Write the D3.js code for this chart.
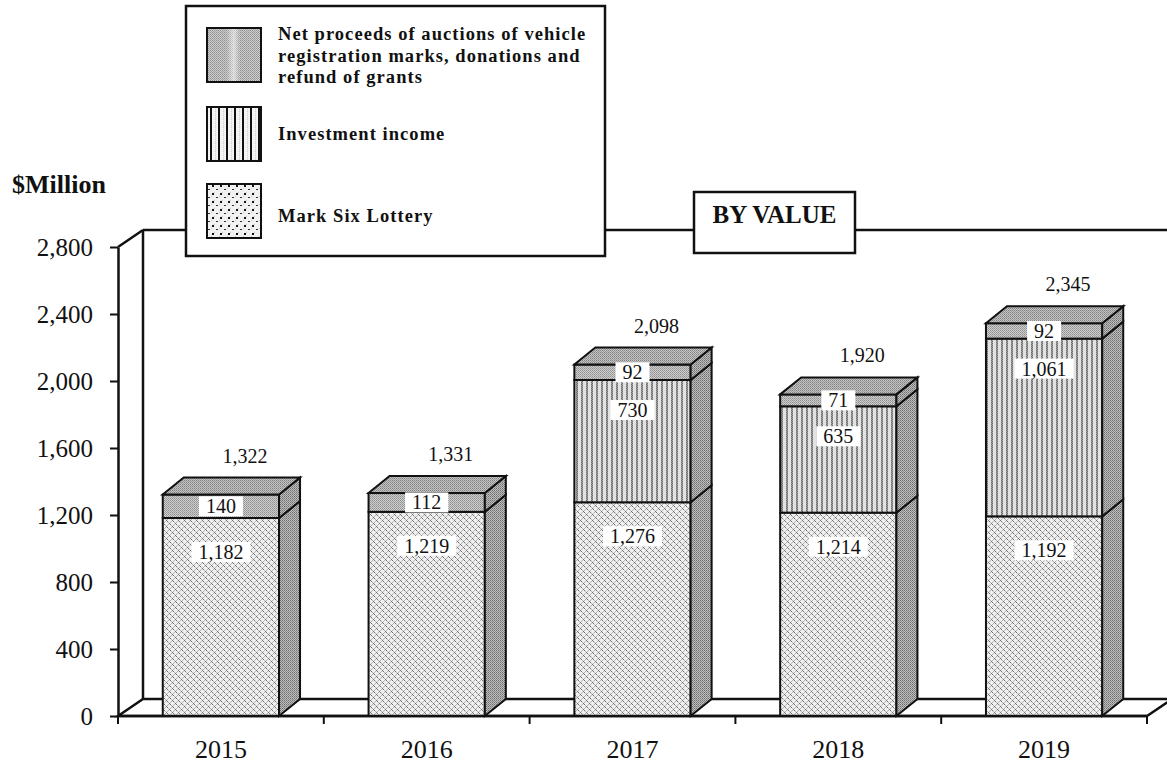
<!DOCTYPE html>
<html>
<head>
<meta charset="utf-8">
<script src="https://cdn.jsdelivr.net/npm/d3@7"></script>
<style>
  body { margin: 0; background: #fff; }
  svg { display: block; font-family: "Liberation Serif", "Times New Roman", serif; }
</style>
</head>
<body>
<div id="chart"></div>
<script>
// data
var years = ["2015", "2016", "2017", "2018", "2019"];
var markSix = [1182, 1219, 1276, 1214, 1192];
var investment = [0, 0, 730, 635, 1061];
var netProceeds = [140, 112, 92, 71, 92];
var totals = [1322, 1331, 2098, 1920, 2345];
var yTicks = [0, 400, 800, 1200, 1600, 2000, 2400, 2800];
var seriesKeys = ["markSix", "investment", "netProceeds"];
var legendLabels = {
  netProceeds: ["Net proceeds of auctions of vehicle", "registration marks, donations and", "refund of grants"],
  investment: ["Investment income"],
  markSix: ["Mark Six Lottery"]
};

var W = 1167, H = 767;
var plot = {left: 118, right: 1147, bottom: 716, top: 247};
var depth = {dx: 21, dy: -17};   // bar depth
var wall = {dx: 25, dy: -17};    // back wall offset

var svg = d3.select("#chart").append("svg")
    .attr("width", W).attr("height", H);

// patterns to mimic the print screens
var defs = svg.append("defs");
function pat(id, w, h) {
  return defs.append("pattern").attr("id", id).attr("patternUnits", "userSpaceOnUse")
    .attr("width", w).attr("height", h).attr("shape-rendering", "crispEdges");
}
var p = pat("pNet", 2, 2);
p.append("rect").attr("width", 2).attr("height", 2).attr("fill", "#cfcfcf");
p.append("rect").attr("width", 1).attr("height", 1).attr("fill", "#8e8e8e");
p.append("rect").attr("x", 1).attr("y", 1).attr("width", 1).attr("height", 1).attr("fill", "#a0a0a0");

p = pat("pTop", 2, 2);
p.append("rect").attr("width", 2).attr("height", 2).attr("fill", "#c4c4c4");
p.append("rect").attr("width", 1).attr("height", 1).attr("fill", "#808080");
p.append("rect").attr("x", 1).attr("y", 1).attr("width", 1).attr("height", 1).attr("fill", "#999");

p = pat("pSide", 2, 2);
p.append("rect").attr("width", 2).attr("height", 2).attr("fill", "#bdbdbd");
p.append("rect").attr("width", 1).attr("height", 1).attr("fill", "#6e6e6e");
p.append("rect").attr("x", 1).attr("y", 1).attr("width", 1).attr("height", 1).attr("fill", "#8a8a8a");

p = pat("pInv", 5, 2);
p.append("rect").attr("width", 5).attr("height", 2).attr("fill", "#e2e2e2");
p.append("rect").attr("x", 1).attr("width", 1).attr("height", 1).attr("fill", "#6e6e6e");
p.append("rect").attr("x", 2).attr("y", 1).attr("width", 1).attr("height", 1).attr("fill", "#6e6e6e");
p.append("rect").attr("x", 1).attr("y", 1).attr("width", 1).attr("height", 1).attr("fill", "#a0a0a0");
p.append("rect").attr("x", 2).attr("width", 1).attr("height", 1).attr("fill", "#a0a0a0");

p = pat("pMark", 6, 6);
p.append("rect").attr("width", 6).attr("height", 6).attr("fill", "#efefef");
[[0,0],[2,0],[1,1],[0,2],[2,2],[3,3],[5,3],[4,4],[3,5],[5,5]].forEach(function(c, i) {
  p.append("rect").attr("x", c[0]).attr("y", c[1]).attr("width", 1).attr("height", 1)
    .attr("fill", i % 5 === 2 || i % 5 === 4 ? "#707070" : "#b4b4b4");
});

// legend versions
p = pat("lInv", 8, 2);
p.append("rect").attr("width", 8).attr("height", 2).attr("fill", "#f3f3f3");
p.append("rect").attr("x", 5).attr("y", 1).attr("width", 1).attr("height", 1).attr("fill", "#cfcfcf");
p.append("rect").attr("x", 0).attr("width", 2).attr("height", 2).attr("fill", "#111");

p = pat("lMark", 8, 8);
p.append("rect").attr("width", 8).attr("height", 8).attr("fill", "#f1f1f1");
p.append("rect").attr("x", 4).attr("y", 2).attr("width", 1).attr("height", 1).attr("fill", "#c8c8c8");
p.append("rect").attr("x", 1).attr("y", 6).attr("width", 1).attr("height", 1).attr("fill", "#c8c8c8");
p.append("rect").attr("x", 2).attr("y", 3).attr("width", 2).attr("height", 2).attr("fill", "#111");
p.append("rect").attr("x", 6).attr("y", 7).attr("width", 2).attr("height", 1).attr("fill", "#333");

// light band across the legend's grey swatch
var band = defs.append("linearGradient").attr("id", "gBand");
[[0, 0], [0.35, 0], [0.5, 0.55], [0.62, 0], [1, 0]].forEach(function(s) {
  band.append("stop").attr("offset", s[0]).attr("stop-color", "#fff").attr("stop-opacity", s[1]);
});

var frontFill = {markSix: "url(#pMark)", investment: "url(#pInv)", netProceeds: "url(#pNet)"};
var legendFill = {markSix: "url(#lMark)", investment: "url(#lInv)", netProceeds: "url(#pNet)"};

// scales
var xCat = d3.scaleBand().domain(years).range([plot.left, plot.right]);
var x = xCat.copy().paddingInner(0.435).paddingOuter(0.2175);
var y = d3.scaleLinear().domain([0, 2800]).range([plot.bottom, plot.top]);

var rows = years.map(function(d, i) {
  return {year: d, markSix: markSix[i], investment: investment[i], netProceeds: netProceeds[i], total: totals[i]};
});
var stacked = d3.stack().keys(seriesKeys)(rows);

// back wall and floor
var frame = svg.append("g").attr("fill", "none").attr("stroke", "#111").attr("stroke-width", 2.5);
var yTop = y(2800), y0 = y(0);
frame.append("line").attr("x1", plot.left + wall.dx).attr("x2", plot.left + wall.dx)
  .attr("y1", yTop + wall.dy).attr("y2", y0 + wall.dy);
frame.append("line").attr("x1", plot.left + wall.dx).attr("x2", W + 10)
  .attr("y1", yTop + wall.dy).attr("y2", yTop + wall.dy);
frame.append("line").attr("x1", plot.left).attr("y1", yTop)
  .attr("x2", plot.left + wall.dx).attr("y2", yTop + wall.dy);
frame.append("path").attr("fill", "#fff")
  .attr("d", "M" + plot.left + "," + y0 + "L" + (plot.left + wall.dx) + "," + (y0 + wall.dy) +
    "L" + (W + 40) + "," + (y0 + wall.dy) + "L" + (plot.right + wall.dx) + "," + (y0 + wall.dy) +
    "L" + plot.right + "," + y0 + "Z");

// bars
var bars = svg.append("g").attr("stroke", "#111").attr("stroke-width", 2).attr("stroke-linejoin", "miter");
years.forEach(function(yr, i) {
  var x0 = x(yr), x1 = x0 + x.bandwidth();
  var g = bars.append("g");
  stacked.forEach(function(layer) {
    var d = layer[i];
    if (d[1] - d[0] <= 0) return;
    var ya = y(d[0]), yb = y(d[1]);
    g.append("rect").attr("x", x0).attr("y", yb).attr("width", x1 - x0).attr("height", ya - yb)
      .attr("fill", frontFill[layer.key]);
    g.append("path").attr("fill", "url(#pSide)")
      .attr("d", "M" + x1 + "," + yb + "l" + depth.dx + "," + depth.dy + "L" + (x1 + depth.dx) + "," + (ya + depth.dy) + "L" + x1 + "," + ya + "Z");
  });
  var yt = y(rows[i].markSix + rows[i].investment + rows[i].netProceeds);
  g.append("path").attr("fill", "url(#pTop)")
    .attr("d", "M" + x0 + "," + yt + "l" + depth.dx + "," + depth.dy + "L" + (x1 + depth.dx) + "," + (yt + depth.dy) + "L" + x1 + "," + yt + "Z");
});

// value labels with white boxes
var labels = svg.append("g").attr("font-size", 20).attr("fill", "#111").attr("text-anchor", "middle");
function boxedLabel(cx, cy, txt) {
  var r = labels.append("rect").attr("fill", "#fff");
  var t = labels.append("text").attr("x", cx).attr("y", cy).attr("dy", "0.35em").text(txt);
  var bb = t.node().getBBox();
  r.attr("x", bb.x - 7).attr("y", cy - 10).attr("width", bb.width + 14).attr("height", 20);
}
var fmt = d3.format(",");
years.forEach(function(yr, i) {
  var cx = x(yr) + x.bandwidth() / 2;
  stacked.forEach(function(layer) {
    var d = layer[i];
    if (d[1] - d[0] <= 0) return;
    var cy;
    if (layer.key === "netProceeds") cy = (y(d[0]) + y(d[1])) / 2;
    else if (layer.key === "investment") cy = y(d[1]) + 30;
    else cy = y(d[1]) + 34;
    boxedLabel(cx, cy, fmt(d[1] - d[0]));
  });
  labels.append("text").attr("x", cx + 24).attr("y", y(totals[i]) + depth.dy - 15)
    .text(fmt(totals[i]));
});

// y axis
var yAxis = d3.axisLeft(y).tickValues(yTicks).tickSize(8).tickSizeOuter(0).tickPadding(17)
  .tickFormat(fmt);
var gy = svg.append("g").attr("transform", "translate(" + plot.left + ",0)").call(yAxis);
gy.select(".domain").attr("stroke", "#111").attr("stroke-width", 2.5);
gy.selectAll(".tick line").attr("stroke", "#111").attr("stroke-width", 2);
gy.selectAll(".tick text").attr("font-family", "Liberation Serif").attr("font-size", 25).attr("fill", "#111");

// x axis
var xAxis = d3.axisBottom(xCat).tickSize(0).tickPadding(24);
var gx = svg.append("g").attr("transform", "translate(0," + plot.bottom + ")").call(xAxis);
gx.select(".domain").remove();
gx.selectAll(".tick text").attr("font-family", "Liberation Serif").attr("font-size", 26).attr("fill", "#111");
svg.append("line").attr("x1", plot.left).attr("x2", plot.right).attr("y1", y0).attr("y2", y0)
  .attr("stroke", "#111").attr("stroke-width", 2.5);
svg.append("g").selectAll("line")
  .data(years.map(function(d) { return xCat(d); }).concat([xCat.range()[1]]))
  .enter().append("line")
  .attr("x1", function(d) { return d; }).attr("x2", function(d) { return d; })
  .attr("y1", y0).attr("y2", y0 + 8)
  .attr("stroke", "#111").attr("stroke-width", 2);

// unit label
svg.append("text").attr("x", 12).attr("y", 193).attr("font-size", 26).attr("font-weight", "bold")
  .attr("fill", "#111").text("$Million");

// legend
var lg = svg.append("g").attr("transform", "translate(186,6)");
lg.append("rect").attr("width", 419).attr("height", 250).attr("fill", "#fff")
  .attr("stroke", "#111").attr("stroke-width", 2.5);
var legendOrder = ["netProceeds", "investment", "markSix"];
var swatchY = [22, 101, 178];
var textY = [34, 134, 216];
legendOrder.forEach(function(k, i) {
  lg.append("rect").attr("x", 21).attr("y", swatchY[i]).attr("width", 54).attr("height", 54)
    .attr("fill", legendFill[k]).attr("stroke", "#111").attr("stroke-width", 2);
  if (k === "netProceeds") {
    lg.append("rect").attr("x", 22).attr("y", swatchY[i] + 1).attr("width", 52).attr("height", 52)
      .attr("fill", "url(#gBand)");
  }
  legendLabels[k].forEach(function(line, j) {
    lg.append("text").attr("x", 92).attr("y", textY[i] + j * 21.5).attr("font-size", 18.5)
      .attr("letter-spacing", 1.05).attr("font-weight", "bold").attr("fill", "#111").text(line);
  });
});

// BY VALUE box
var bv = svg.append("g").attr("transform", "translate(694,192)");
bv.append("rect").attr("width", 161).attr("height", 61).attr("fill", "#fff")
  .attr("stroke", "#111").attr("stroke-width", 2.5);
bv.append("text").attr("x", 80.5).attr("y", 31).attr("text-anchor", "middle").attr("font-size", 25)
  .attr("font-weight", "bold").attr("fill", "#111").text("BY VALUE");
</script>
</body>
</html>
